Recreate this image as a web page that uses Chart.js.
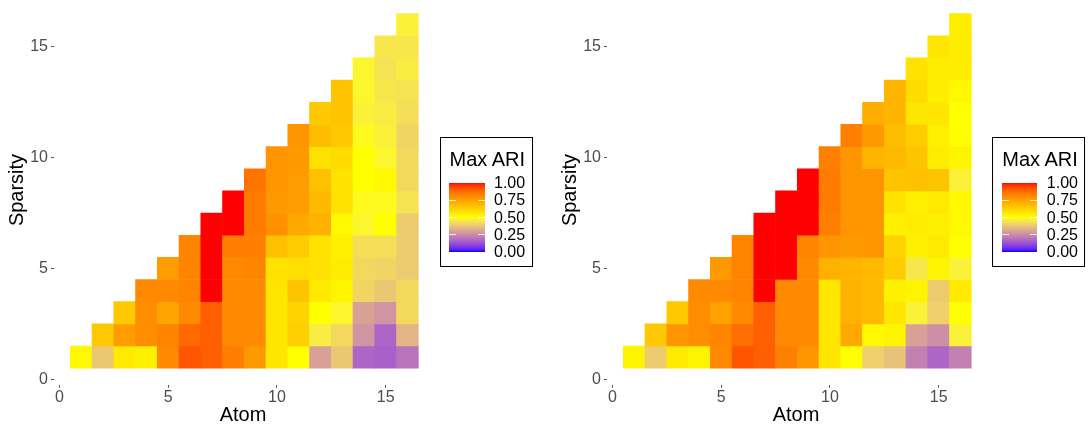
<!DOCTYPE html>
<html>
<head>
<meta charset="utf-8">
<script src="https://cdn.jsdelivr.net/npm/chart.js@4.4.0/dist/chart.umd.min.js"></script>
<style>
  body { margin: 0; width: 1089px; height: 426px; overflow: hidden; background: #fff; position: relative;
         font-family: "Liberation Sans", Arial, sans-serif; }
  canvas.panel { position: absolute; top: -20px; }
  .legend { position: absolute; top: 136.7px; width: 93px; height: 130px; border: 1px solid #000; box-sizing: border-box; }
  .legend .title { position: absolute; left: 9px; top: 11.4px; font-size: 20px; line-height: 20px; color: #000; white-space: nowrap; }
  .legend .bar { position: absolute; left: 8.8px; top: 45px; width: 35.4px; height: 69.6px; }
  .legend .mark { position: absolute; height: 1px; width: 7px; background: rgba(255,255,255,0.8); }
  .legend .lab { position: absolute; left: 53.5px; font-size: 16px; line-height: 16px; color: #000; }
</style>
</head>
<body>
<canvas id="left" class="panel" width="440" height="446" style="left:0px"></canvas>
<canvas id="right" class="panel" width="440" height="446" style="left:553px"></canvas>
<div id="legendLeft" class="legend" style="left:439.5px"></div>
<div id="legendRight" class="legend" style="left:992.3px"></div>
<script>
// atom count on x, sparsity (1..atom) on y
const atoms = [1, 2, 3, 4, 5, 6, 7, 8, 9, 10, 11, 12, 13, 14, 15, 16];
const axisTicks = [0, 5, 10, 15];
const legendBreaks = ["1.00", "0.75", "0.50", "0.25", "0.00"];
const scaleStops = [0, 0.5, 1];
const scaleColours = ["#0000FF", "#FFFF00", "#FF0000"];

// Max ARI per atom column, listed from sparsity 1 upward
const ariLeft = [
  [0.52],
  [0.38, 0.65],
  [0.56, 0.76, 0.65],
  [0.54, 0.80, 0.80, 0.81],
  [0.81, 0.82, 0.74, 0.81, 0.76],
  [0.92, 0.88, 0.81, 0.82, 0.82, 0.82],
  [0.90, 0.90, 0.90, 1.00, 1.00, 1.00, 1.00],
  [0.83, 0.81, 0.81, 0.81, 0.81, 0.83, 1.00, 1.00],
  [0.77, 0.81, 0.81, 0.81, 0.82, 0.83, 0.84, 0.84, 0.86],
  [0.57, 0.57, 0.57, 0.57, 0.58, 0.67, 0.79, 0.77, 0.78, 0.78],
  [0.50, 0.63, 0.62, 0.66, 0.59, 0.64, 0.73, 0.76, 0.76, 0.77, 0.78],
  [0.30, 0.46, 0.50, 0.56, 0.58, 0.58, 0.71, 0.69, 0.67, 0.58, 0.68, 0.65],
  [0.38, 0.42, 0.48, 0.53, 0.55, 0.54, 0.52, 0.58, 0.58, 0.60, 0.65, 0.66, 0.66],
  [0.17, 0.27, 0.30, 0.41, 0.42, 0.43, 0.48, 0.49, 0.50, 0.50, 0.49, 0.47, 0.48, 0.48],
  [0.16, 0.17, 0.27, 0.38, 0.41, 0.43, 0.50, 0.49, 0.52, 0.48, 0.47, 0.46, 0.45, 0.44, 0.45],
  [0.20, 0.34, 0.42, 0.42, 0.39, 0.39, 0.39, 0.44, 0.42, 0.42, 0.41, 0.43, 0.44, 0.46, 0.45, 0.47]
];

const ariRight = [
  [0.53],
  [0.39, 0.65],
  [0.56, 0.78, 0.65],
  [0.53, 0.80, 0.80, 0.81],
  [0.81, 0.82, 0.75, 0.81, 0.77],
  [0.92, 0.87, 0.81, 0.82, 0.82, 0.82],
  [0.90, 0.90, 0.90, 1.00, 1.00, 1.00, 1.00],
  [0.83, 0.81, 0.81, 0.81, 1.00, 1.00, 1.00, 1.00],
  [0.78, 0.81, 0.81, 0.81, 0.81, 0.82, 1.00, 1.00, 1.00],
  [0.57, 0.57, 0.57, 0.57, 0.71, 0.78, 0.83, 0.84, 0.84, 0.83],
  [0.50, 0.73, 0.71, 0.71, 0.70, 0.77, 0.78, 0.78, 0.78, 0.78, 0.83],
  [0.40, 0.52, 0.69, 0.69, 0.69, 0.78, 0.78, 0.78, 0.78, 0.70, 0.77, 0.72],
  [0.37, 0.53, 0.57, 0.54, 0.64, 0.62, 0.54, 0.58, 0.66, 0.69, 0.68, 0.70, 0.70],
  [0.23, 0.30, 0.47, 0.53, 0.45, 0.54, 0.55, 0.54, 0.67, 0.66, 0.64, 0.57, 0.60, 0.58],
  [0.17, 0.26, 0.40, 0.39, 0.53, 0.56, 0.54, 0.56, 0.66, 0.55, 0.54, 0.57, 0.55, 0.55, 0.57],
  [0.23, 0.47, 0.50, 0.56, 0.47, 0.50, 0.52, 0.52, 0.47, 0.53, 0.50, 0.50, 0.52, 0.55, 0.55, 0.55]
];

// colour ramp interpolated in CIELAB
const WHITE = [0.95047, 1, 1.08883];
function hexToRgb(h) { return [1, 3, 5].map(i => parseInt(h.slice(i, i + 2), 16)); }
function toLinear(c) { c /= 255; return c <= 0.04045 ? c / 12.92 : Math.pow((c + 0.055) / 1.055, 2.4); }
function fromLinear(c) {
  const v = c <= 0.0031308 ? 12.92 * c : 1.055 * Math.pow(c, 1 / 2.4) - 0.055;
  return Math.round(Math.max(0, Math.min(1, v)) * 255);
}
function rgbToLab(rgb) {
  const [r, g, b] = rgb.map(toLinear);
  const x = (0.4124564 * r + 0.3575761 * g + 0.1804375 * b) / WHITE[0];
  const y = (0.2126729 * r + 0.7151522 * g + 0.0721750 * b) / WHITE[1];
  const z = (0.0193339 * r + 0.1191920 * g + 0.9503041 * b) / WHITE[2];
  const f = t => t > 0.008856 ? Math.cbrt(t) : 7.787 * t + 16 / 116;
  const fx = f(x), fy = f(y), fz = f(z);
  return [116 * fy - 16, 500 * (fx - fy), 200 * (fy - fz)];
}
function labToRgb(lab) {
  const fy = (lab[0] + 16) / 116, fx = fy + lab[1] / 500, fz = fy - lab[2] / 200;
  const finv = t => t * t * t > 0.008856 ? t * t * t : (t - 16 / 116) / 7.787;
  const x = finv(fx) * WHITE[0], y = finv(fy) * WHITE[1], z = finv(fz) * WHITE[2];
  const r = 3.2404542 * x - 1.5371385 * y - 0.4985314 * z;
  const g = -0.9692660 * x + 1.8760108 * y + 0.0415560 * z;
  const b = 0.0556434 * x - 0.2040259 * y + 1.0572252 * z;
  return [r, g, b].map(fromLinear);
}
const labStops = scaleColours.map(c => rgbToLab(hexToRgb(c)));

function ariColour(v) {
  let i = 0;
  while (i < scaleStops.length - 2 && v > scaleStops[i + 1]) i++;
  const t = (v - scaleStops[i]) / (scaleStops[i + 1] - scaleStops[i]);
  const a = labStops[i], b = labStops[i + 1];
  const rgb = labToRgb([0, 1, 2].map(k => a[k] + (b[k] - a[k]) * t));
  return "rgb(" + rgb.join(",") + ")";
}

function tileData(values) {
  const cells = [];
  values.forEach((col, i) => {
    col.forEach((v, j) => {
      cells.push({ x: atoms[i], y: [j + 0.5, j + 1.5], v: v });
    });
  });
  return cells;
}

function fixTicks(scale) {
  scale.ticks = axisTicks.map(v => ({ value: v }));
}

function buildPanel(canvasId, values) {
  const tickFont = { family: "'Liberation Sans', Arial, sans-serif", size: 16 };
  const titleFont = { family: "'Liberation Sans', Arial, sans-serif", size: 20, lineHeight: 1.1 };
  new Chart(document.getElementById(canvasId), {
    type: "bar",
    data: {
      datasets: [{
        data: tileData(values),
        backgroundColor: ctx => ctx.raw ? ariColour(ctx.raw.v) : "#fff",
        borderWidth: 0,
        barPercentage: 1,
        categoryPercentage: 1
      }]
    },
    options: {
      responsive: false,
      animation: false,
      layout: { padding: { top: 15.2, right: 8, left: 0, bottom: 0 } },
      plugins: { legend: { display: false }, tooltip: { enabled: false } },
      scales: {
        x: {
          type: "linear",
          min: -0.25,
          max: 17.13,
          offset: false,
          grid: { offset: false, drawOnChartArea: false, drawTicks: true, tickLength: 3, tickColor: "#555" },
          border: { display: false },
          ticks: { font: tickFont, color: "#4d4d4d", padding: 0, maxRotation: 0 },
          afterBuildTicks: fixTicks,
          afterFit: s => { s.height = 41.2; },
          title: { display: true, text: "Atom", color: "#000", font: titleFont, padding: { top: 0, bottom: 0 } }
        },
        y: {
          min: -0.25,
          max: 17.33,
          grid: { drawOnChartArea: false, drawTicks: true, tickLength: 3, tickColor: "#555" },
          border: { display: false },
          ticks: { font: tickFont, color: "#4d4d4d", padding: 3 },
          afterBuildTicks: fixTicks,
          afterFit: s => { s.width = 54; },
          title: { display: true, text: "Sparsity", color: "#000", font: titleFont, padding: { top: 6, bottom: 0 } }
        }
      }
    }
  });
}

function buildLegend(id) {
  const box = document.getElementById(id);
  const title = document.createElement("div");
  title.className = "title";
  title.textContent = "Max ARI";
  box.appendChild(title);

  const bar = document.createElement("div");
  bar.className = "bar";
  const stops = [];
  for (let k = 0; k <= 40; k++) stops.push(ariColour(k / 40) + " " + (k * 2.5) + "%");
  bar.style.background = "linear-gradient(to top, " + stops.join(", ") + ")";
  box.appendChild(bar);

  const barTop = 45, barH = 69.6;
  legendBreaks.forEach((txt, i) => {
    const yc = barTop + i * barH / (legendBreaks.length - 1);
    const lab = document.createElement("div");
    lab.className = "lab";
    lab.style.top = (yc - 7.8) + "px";
    lab.textContent = txt;
    box.appendChild(lab);
    if (i > 0 && i < legendBreaks.length - 1) {
      [8.8, 8.8 + 35.4 - 7].forEach(xl => {
        const m = document.createElement("div");
        m.className = "mark";
        m.style.left = xl + "px";
        m.style.top = (yc - 0.5) + "px";
        box.appendChild(m);
      });
    }
  });
}

buildPanel("left", ariLeft);
buildPanel("right", ariRight);
buildLegend("legendLeft");
buildLegend("legendRight");
</script>
</body>
</html>
